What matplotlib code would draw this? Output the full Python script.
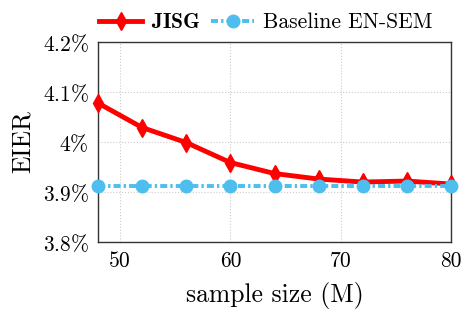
import numpy as np
import matplotlib
matplotlib.use("Agg")
import matplotlib.pyplot as plt
from matplotlib.ticker import FuncFormatter

# data
sample_size = [48, 52, 56, 60, 64, 68, 72, 76, 80]
jisg_eier = [4.078, 4.029, 3.999, 3.959, 3.937, 3.926, 3.920, 3.922, 3.916]
baseline_eier = [3.912, 3.912, 3.912, 3.912, 3.912, 3.912, 3.912, 3.912, 3.912]
x_ticks = [50, 60, 70, 80]
y_ticks = [3.8, 3.9, 4.0, 4.1, 4.2]

plt.rcParams['font.family'] = 'serif'
plt.rcParams['font.serif'] = ['cmr10']
plt.rcParams['mathtext.fontset'] = 'cm'
plt.rcParams['axes.unicode_minus'] = False

fig = plt.figure(figsize=(4.7, 3.16), dpi=100)
ax = fig.add_axes([0.2085, 0.234, 0.7511, 0.633])

red = '#ff0000'
blue = '#4dbeee'

ax.plot(sample_size, jisg_eier, color=red, lw=3.5, marker='d', ms=9,
        label=r'$\mathbf{JISG}$', clip_on=False, zorder=3)
ax.plot(sample_size, baseline_eier, color=blue, lw=2.8, ls=(0, (1.8, 0.8, 0.6, 0.8)),
        marker='o', ms=9, label='Baseline EN-SEM', clip_on=False, zorder=4)

ax.set_xlim(48, 80)
ax.set_ylim(3.8, 4.2)
ax.set_xticks(x_ticks)
ax.set_yticks(y_ticks)

def pct(v, pos):
    s = '%.1f' % v
    if s.endswith('.0'):
        s = s[:-2]
    return s + r'$\%$'

ax.yaxis.set_major_formatter(FuncFormatter(pct))
ax.tick_params(length=0, labelsize=15.5, pad=6.5)
ax.grid(True, ls=':', color='#cccccc', lw=0.8)
for sp in ax.spines.values():
    sp.set_color('#333333')
    sp.set_linewidth(1.0)

ax.set_xlabel('sample size (M)', fontsize=18.5, labelpad=8)
ax.set_ylabel('EIER', fontsize=18.5, labelpad=6)

leg = ax.legend(loc='lower center', bbox_to_anchor=(0.475, 1.0), ncol=2,
                frameon=False, fontsize=15.5, handlelength=2.0,
                columnspacing=0.5, handletextpad=0.4, borderaxespad=0.05)

fig.savefig('out.png', dpi=100)
